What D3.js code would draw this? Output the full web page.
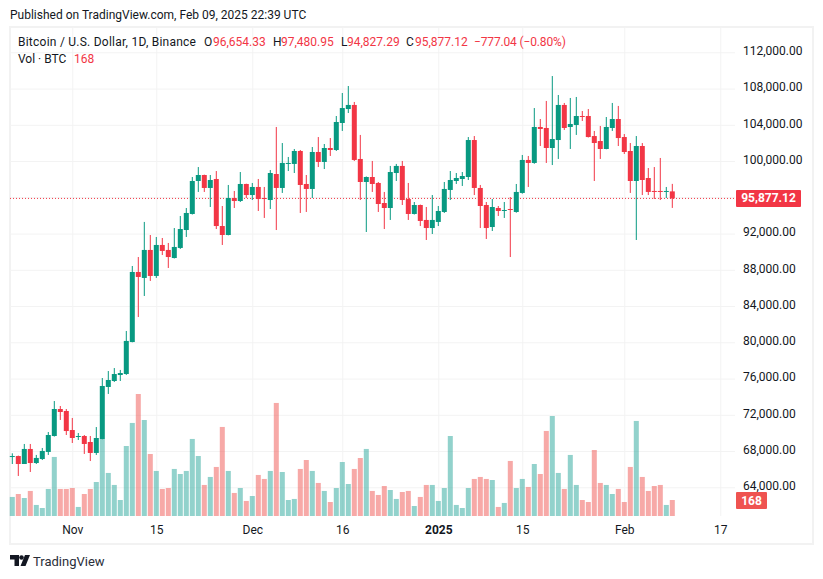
<!DOCTYPE html>
<html>
<head>
<meta charset="utf-8">
<title>BTCUSD</title>
<style>
    html, body { margin: 0; padding: 0; background: #fff; }
    svg { display: block; }
    text { font-family: Roboto, sans-serif; font-size: 12px; fill: #131722; }
    .axis path { display: none; }
    .axis line { stroke: #f3f3f3; }
</style>
<script src="https://cdn.jsdelivr.net/npm/d3@7/dist/d3.min.js"></script>
</head>
<body>
<script>
'use strict';

var open = [67380, 67450, 66570, 68230, 66680, 67120, 67900, 69660, 72640, 72420, 70320, 69550, 69660, 69000, 67790, 69330, 75070, 75730, 76390, 76500, 80030, 87760, 87100, 90190, 87320, 90740, 90190, 89300, 90410, 92390, 94160, 97800, 98460, 97030, 98020, 92830, 91840, 95920, 95590, 97470, 96250, 97140, 95920, 95700, 98570, 97030, 99680, 99680, 101110, 97470, 96920, 101000, 99900, 101440, 101220, 104200, 105740, 106190, 100230, 97690, 98240, 97580, 95370, 94820, 98680, 99460, 95810, 94160, 95150, 93500, 92610, 93280, 94380, 96810, 97800, 98020, 98240, 102320, 97030, 95150, 92720, 94820, 94490, 94710, 94380, 96480, 100120, 99790, 103760, 103650, 101440, 102320, 106190, 103760, 103980, 104970, 104970, 102760, 102210, 101330, 103650, 104640, 102650, 101110, 97800, 101660, 98130, 96700, 96700, 96590, 96654.33];
var high = [67750, 67500, 68780, 68780, 67570, 68340, 70100, 73520, 72970, 72640, 71650, 69990, 69770, 69660, 70650, 76060, 76830, 77160, 76950, 81250, 88420, 89410, 93280, 91840, 91620, 91510, 90960, 92610, 93940, 94820, 98240, 99340, 98500, 98460, 98900, 95040, 97360, 96700, 98790, 97500, 97580, 98020, 97140, 99010, 103760, 101990, 100450, 101330, 101220, 98460, 101550, 102650, 101880, 102540, 104970, 107510, 108280, 106520, 102880, 98300, 100010, 97690, 96590, 99460, 99680, 100010, 97580, 95480, 95200, 94930, 96250, 95040, 97690, 98900, 98680, 98790, 102650, 102760, 97360, 95480, 95810, 95040, 95480, 96030, 97470, 100670, 100560, 105850, 104640, 106630, 109380, 107290, 106410, 106960, 107070, 105520, 105740, 103320, 103870, 104860, 106410, 106080, 102980, 101990, 102760, 101990, 99230, 99340, 100340, 97140, 97480.95];
var low = [66570, 65250, 66570, 65690, 66570, 67010, 67570, 69600, 71430, 69770, 68890, 69220, 67680, 66900, 67570, 69300, 74300, 75620, 75730, 76400, 80000, 82790, 85110, 86770, 87100, 89630, 88200, 89250, 90300, 91620, 94100, 96590, 96590, 94930, 92500, 90740, 91800, 94820, 95480, 95920, 95700, 94490, 93720, 94710, 92390, 96480, 98900, 98680, 94270, 94380, 95920, 99340, 99120, 100560, 101110, 103320, 105300, 100010, 95700, 92170, 96590, 94380, 92500, 93500, 97800, 95150, 93500, 94100, 92830, 91290, 91950, 92830, 94270, 95700, 97470, 97250, 97910, 96250, 92610, 91400, 92280, 93940, 93720, 89410, 94300, 96400, 97140, 99700, 101660, 99790, 99560, 100230, 103430, 101330, 102880, 104420, 102600, 97800, 100230, 101300, 103320, 101660, 100780, 96480, 91290, 96250, 96250, 95810, 95700, 95920, 94827.29];
var close = [67450, 66570, 68230, 66680, 67240, 68010, 69770, 72640, 72310, 70210, 69440, 69660, 68780, 67790, 69440, 75180, 75840, 76500, 76610, 80150, 87760, 87210, 90190, 87320, 90740, 90080, 89410, 90520, 92500, 94270, 97800, 98460, 97030, 97910, 92830, 91840, 95920, 95590, 97470, 96250, 97140, 95810, 95810, 98680, 97030, 99790, 99790, 101110, 97360, 96920, 101000, 99900, 101440, 101220, 104310, 105850, 106190, 100120, 97690, 98240, 97470, 95260, 94820, 98790, 99460, 95700, 94160, 95150, 93390, 92610, 93500, 94490, 96920, 97910, 98130, 98350, 102320, 97030, 95040, 92610, 94930, 94490, 94600, 94600, 96590, 100120, 99790, 103760, 103540, 101440, 102430, 106190, 103650, 104090, 104970, 104860, 102650, 101990, 101330, 103760, 104640, 102540, 101000, 97800, 101660, 97910, 96590, 96590, 96590, 96700, 95877.12];
var volume = [200, 231, 189, 263, 116, 84, 284, 620, 284, 284, 294, 95, 231, 284, 357, 809, 452, 326, 168, 735, 977, 1281, 1008, 651, 473, 284, 294, 494, 441, 473, 809, 630, 326, 410, 515, 935, 473, 242, 294, 158, 210, 431, 389, 473, 1187, 462, 168, 179, 494, 588, 473, 347, 263, 147, 294, 567, 336, 494, 609, 704, 263, 221, 315, 273, 179, 252, 263, 105, 200, 326, 326, 158, 294, 840, 116, 84, 294, 389, 410, 389, 378, 95, 137, 578, 294, 389, 305, 546, 441, 893, 1050, 452, 284, 641, 326, 168, 147, 693, 347, 326, 231, 284, 147, 515, 998, 410, 263, 315, 326, 116, 168];

var priceTicks = [64000, 68000, 72000, 76000, 80000, 84000, 88000, 92000, 96000, 100000, 104000, 108000, 112000];
var timeTicks = [
    [Date.UTC(2024, 10, 1), "Nov"],
    [Date.UTC(2024, 10, 15), "15"],
    [Date.UTC(2024, 11, 1), "Dec"],
    [Date.UTC(2024, 11, 16), "16"],
    [Date.UTC(2025, 0, 1), "2025"],
    [Date.UTC(2025, 0, 15), "15"],
    [Date.UTC(2025, 1, 1), "Feb"],
    [Date.UTC(2025, 1, 17), "17"]
];
var legendParts = [
    ["Bitcoin / U.S. Dollar, 1D, Binance", 18, "#131722", 0.24],
    ["O", 204, "#131722", 0],
    ["96,654.33", 213, "#f23645", 0],
    ["H", 273, "#131722", 0],
    ["97,480.95", 281, "#f23645", 0],
    ["L", 341, "#131722", 0],
    ["94,827.29", 347, "#f23645", 0],
    ["C", 406, "#131722", 0],
    ["95,877.12", 415, "#f23645", 0],
    ["\u2212777.04 (\u22120.80%)", 474, "#f23645", -0.15]
];

var w = 823,
    h = 579,
    left = 10,
    right = 735,
    top_ = 27,
    bottom = 516,
    up = "#089981",
    down = "#f23645";

var startDay = new Date(Date.UTC(2024, 9, 22));
var dates = open.map(function (d, i) { return d3.utcDay.offset(startDay, i); });

var x = d3.scaleUtc()
    .domain([startDay, dates[dates.length - 1]])
    .range([12.3, 672.3]);
var y = d3.scaleLinear()
    .domain([64000, 112000])
    .range([487.3, 52.3]);
var yVol = d3.scaleLinear()
    .domain([0, 168])
    .range([bottom, 500]);

var svg = d3.select("body").append("svg")
    .attr("width", w)
    .attr("height", h);

svg.append("text")
    .attr("x", 10)
    .attr("y", 19)
    .text("Published on TradingView.com, Feb 09, 2025 22:39 UTC");

svg.append("rect")
    .attr("x", left)
    .attr("y", top_)
    .attr("width", 803)
    .attr("height", 517)
    .attr("fill", "none")
    .attr("stroke", "#f2f2f2")
    .attr("stroke-width", 2);

// grid comes from the axes' tick lines
var yAxis = svg.append("g")
    .attr("class", "axis")
    .attr("transform", "translate(" + right + ",0)")
    .call(d3.axisRight(y)
        .tickValues(priceTicks)
        .tickSize(-(right - left))
        .tickPadding(8)
        .tickFormat(d3.format(",.2f")));
yAxis.selectAll("text")
    .attr("dy", "0.2em")
    .style("font-size", "12px")
    .style("fill", "#131722");
// the last price tag sits where this label would be
yAxis.selectAll("text")
    .filter(function (d) { return d === 96000; })
    .remove();

var xAxis = svg.append("g")
    .attr("class", "axis")
    .attr("transform", "translate(0," + bottom + ")")
    .call(d3.axisBottom(x)
        .tickValues(timeTicks.map(function (d) { return new Date(d[0]); }))
        .tickSize(-(bottom - top_))
        .tickPadding(9)
        .tickFormat(function (d, i) { return timeTicks[i][1]; }));
xAxis.selectAll("text")
    .style("font-size", "12px")
    .style("fill", "#131722")
    .style("font-weight", function (d, i) { return timeTicks[i][1] === "2025" ? "bold" : "normal"; });

function barColor(i) {
    return close[i] >= open[i] ? up : down;
}

svg.append("g").selectAll("rect")
    .data(volume)
    .enter().append("rect")
    .attr("x", function (d, i) { return x(dates[i]) - 2.5; })
    .attr("y", function (d) { return yVol(d); })
    .attr("width", 5)
    .attr("height", function (d) { return bottom - yVol(d); })
    .attr("fill", function (d, i) { return close[i] >= open[i] ? "#26a69a" : "#ef5350"; })
    .attr("fill-opacity", 0.5);

svg.append("line")
    .attr("x1", left)
    .attr("x2", right)
    .attr("y1", y(close[close.length - 1]))
    .attr("y2", y(close[close.length - 1]))
    .attr("stroke", down)
    .attr("stroke-dasharray", "1 2");

svg.append("g").selectAll("line")
    .data(dates)
    .enter().append("line")
    .attr("x1", function (d) { return x(d); })
    .attr("x2", function (d) { return x(d); })
    .attr("y1", function (d, i) { return y(high[i]); })
    .attr("y2", function (d, i) { return y(low[i]); })
    .attr("stroke", function (d, i) { return barColor(i); })
    .attr("stroke-width", 1);

svg.append("g").selectAll("rect")
    .data(dates)
    .enter().append("rect")
    .attr("x", function (d) { return x(d) - 2.5; })
    .attr("y", function (d, i) { return y(Math.max(open[i], close[i])); })
    .attr("width", 5)
    .attr("height", function (d, i) { return Math.max(1, Math.abs(y(open[i]) - y(close[i]))); })
    .attr("fill", function (d, i) { return barColor(i); });

// legend
svg.append("g").selectAll("text")
    .data(legendParts)
    .enter().append("text")
    .attr("x", function (d) { return d[1]; })
    .attr("y", 46)
    .style("fill", function (d) { return d[2]; })
    .style("letter-spacing", function (d) { return d[3] + "px"; })
    .text(function (d) { return d[0]; });

svg.append("text").attr("x", 18).attr("y", 63).text("Vol \u00b7 BTC");
svg.append("text").attr("x", 74).attr("y", 63).style("fill", down).text(volume[volume.length - 1]);

// last value tags
svg.append("rect")
    .attr("x", 736).attr("y", 190)
    .attr("width", 65).attr("height", 17)
    .attr("rx", 1)
    .attr("fill", down);
svg.append("text")
    .attr("x", 768.5).attr("y", y(close[close.length - 1]) + 4)
    .attr("text-anchor", "middle")
    .style("fill", "#fff").style("font-weight", "bold")
    .text(d3.format(",.2f")(close[close.length - 1]));

svg.append("rect")
    .attr("x", 736).attr("y", 492)
    .attr("width", 31).attr("height", 17)
    .attr("rx", 1)
    .attr("fill", "#ef5350");
svg.append("text")
    .attr("x", 751.5).attr("y", 505)
    .attr("text-anchor", "middle")
    .style("fill", "#fff").style("font-weight", "bold")
    .text(volume[volume.length - 1]);

// TradingView mark
var logo = svg.append("g").attr("fill", "#131722");
logo.append("path").attr("d", "M10 555h9v11h-4.500v-6.500h-4.500z");
logo.append("circle").attr("cx", 21.5).attr("cy", 557.5).attr("r", 2.3);
logo.append("path").attr("d", "M25 555h5l-4.500 11h-5z");
svg.append("text")
    .attr("x", 33).attr("y", 566)
    .style("font-size", "13px")
    .style("fill", "#2a2e39")
    .text("TradingView");
</script>
</body>
</html>
